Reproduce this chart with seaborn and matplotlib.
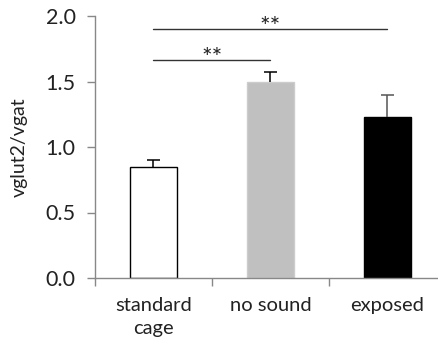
import matplotlib
matplotlib.use("Agg")
import matplotlib.pyplot as plt
import seaborn as sns
import pandas as pd

# Group means and upper SEM values
groups = ["standard cage", "no sound", "exposed"]
tick_labels = ["standard\ncage", "no sound", "exposed"]
means = [0.845, 1.50, 1.23]
sems = [0.055, 0.075, 0.165]
bar_colors = ["#FFFFFF", "#C0C0C0", "#000000"]
edge_colors = ["#000000", "#CCCCCC", "#000000"]
err_colors = ["#000000", "#000000", "#555555"]

# Significance brackets: (from group, to group, height, label)
sig_pairs = [(0, 2, 1.90, "**"), (0, 1, 1.665, "**")]

sns.set_style("white")
plt.rcParams["font.family"] = ["Lato", "DejaVu Sans"]

df = pd.DataFrame({"group": groups, "ratio": means})

fig = plt.figure(figsize=(4.39, 3.43), dpi=100)
ax = fig.add_axes([95 / 439, 1 - 278 / 343, (439 - 95) / 439, (278 - 16) / 343])

sns.barplot(data=df, x="group", y="ratio", hue="group", palette=bar_colors,
            legend=False, width=0.4, errorbar=None, ax=ax, linewidth=1.0)
for patch, ec in zip(ax.patches, edge_colors):
    patch.set_edgecolor(ec)

# Upper-only error bars with a cap
cap_half = 0.055
for i, (m, s) in enumerate(zip(means, sems)):
    ax.vlines(i, m, m + s, color=err_colors[i], lw=1.1, zorder=3)
    ax.hlines(m + s, i - cap_half, i + cap_half, color=err_colors[i], lw=1.1, zorder=3)

for a, b, h, lab in sig_pairs:
    ax.plot([a, b], [h, h], color="#333333", lw=1.0, clip_on=False)
    ax.text((a + b) / 2, h - 0.045, lab, ha="center", va="baseline",
            fontsize=18, color="#222222")

ax.set_xlim(-0.5, -0.5 + (439 - 95) / 117)
ax.set_ylim(0, 2.0)
ax.set_yticks([0, 0.5, 1.0, 1.5, 2.0])
ax.set_yticklabels(["0.0", "0.5", "1.0", "1.5", "2.0"])

ax.set_xticks([-0.5, 0.5, 1.5])
ax.set_xticklabels([])
ax.set_xticks([0, 1, 2], minor=True)
ax.set_xticklabels(tick_labels, minor=True, fontsize=14.5, color="#222222",
                   linespacing=1.4)
ax.tick_params(axis="x", which="minor", length=0, pad=14)
ax.tick_params(axis="x", which="major", length=6, width=1, color="#888888", direction="out")
ax.tick_params(axis="y", length=6, width=1, color="#888888", direction="out",
               labelsize=15.5, labelcolor="#222222", pad=8)
ax.tick_params(left=True, bottom=True)

for side in ["top", "right"]:
    ax.spines[side].set_visible(False)
for side in ["left", "bottom"]:
    ax.spines[side].set_color("#888888")
    ax.spines[side].set_linewidth(1.0)

ax.set_xlabel("")
ax.set_ylabel("vglut2/vgat", fontsize=14, color="#222222", labelpad=13)

fig.savefig("out.png", dpi=100)
